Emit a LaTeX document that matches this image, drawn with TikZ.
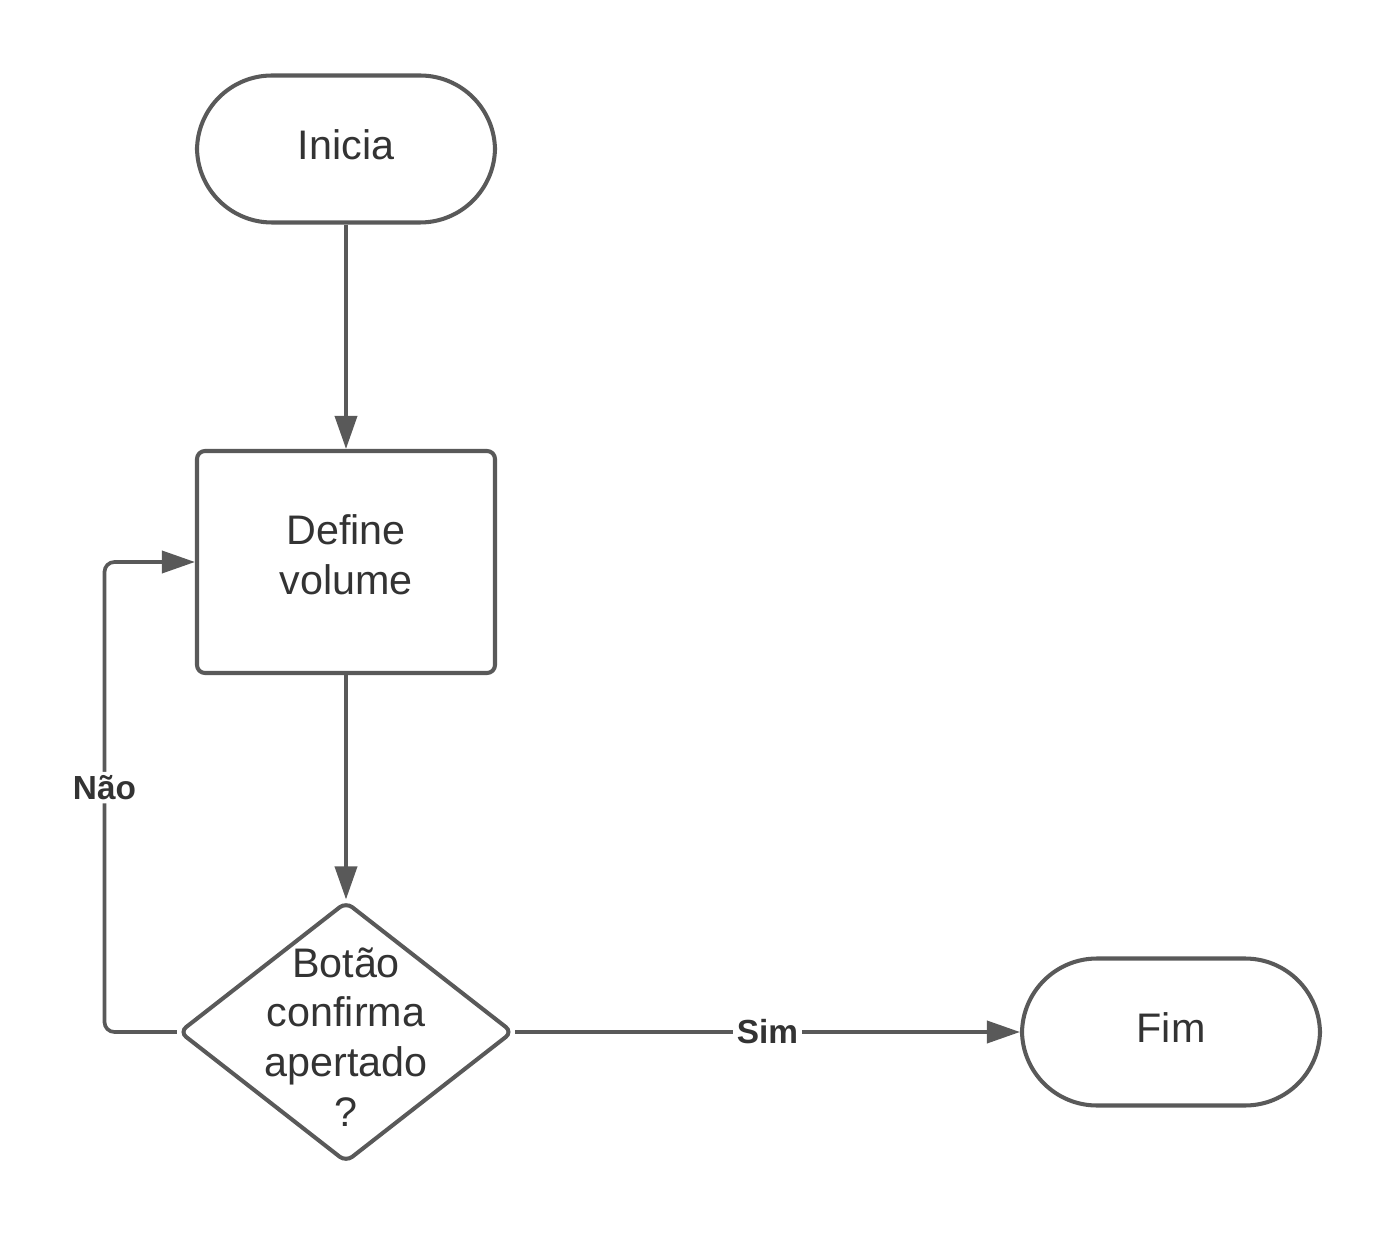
\documentclass[tikz,border=0pt]{standalone}
\usepackage{fontspec}
\setmainfont{Liberation Sans}
\usetikzlibrary{arrows.meta,shapes.geometric}
\definecolor{linegray}{RGB}{89,89,89}
\definecolor{textgray}{RGB}{51,51,51}
\tikzset{
  box/.style={draw=linegray, line width=2.3pt, text=textgray, align=center,
    font=\fontsize{23.5}{28.3}\selectfont, inner sep=0pt},
  terminal/.style={box, rectangle, rounded corners=1.5cm, text depth=0.16cm,
    minimum width=5.96cm, minimum height=2.94cm},
  process/.style={box, rectangle, rounded corners=0.16cm,
    minimum width=5.96cm, minimum height=4.44cm},
  decision/.style={box, diamond, rounded corners=0.16cm,
    minimum width=6.68cm, minimum height=5.22cm},
  flow/.style={draw=linegray, line width=2.1pt,
    -{Triangle[length=0.66cm,width=0.44cm]}},
  lbl/.style={fill=white, text=textgray, inner sep=2pt,
    font=\fontsize{19}{22}\selectfont\bfseries}
}
\begin{document}
\begin{tikzpicture}
  \useasboundingbox (0,0) rectangle (27.94,-24.78);
  \node[terminal] (ini) at (6.92,-2.98) {Inicia};
  \node[process, text depth=0.3cm] (def) at (6.92,-11.24) {Define\\volume};
  \node[decision] (dec) at (6.92,-20.64) {};
  \node[text=textgray, align=center, font=\fontsize{23.5}{28.3}\selectfont] (pergunta) at (6.92,-20.74) {Botão\\confirma\\apertado\\?};
  \node[terminal] (fim) at (23.42,-20.64) {Fim};
  \draw[flow] (ini) -- (def);
  \draw[flow] (def) -- (dec);
  \draw[flow] (dec) -- node[lbl] {Sim} (fim);
  \draw[flow, rounded corners=0.2cm] (dec.west) -- ++(-1.45,0) |- node[lbl, pos=0.26] {Não} (def.west);
\end{tikzpicture}
\end{document}
